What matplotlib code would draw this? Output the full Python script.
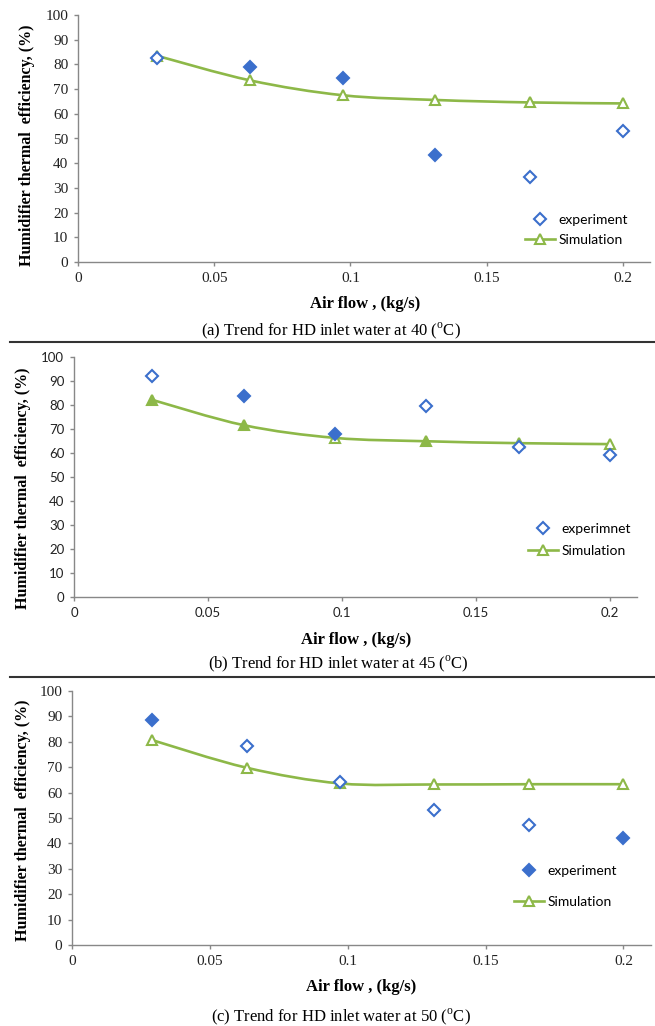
import numpy as np
import matplotlib
matplotlib.use('Agg')
from matplotlib import pyplot as plt
from matplotlib.path import Path
from matplotlib.patches import PathPatch
from matplotlib.lines import Line2D

plt.rcParams['mathtext.fontset'] = 'custom'
plt.rcParams['mathtext.rm'] = 'Liberation Serif'

# 空気流量 (kg/s)
air_flow = [0.029, 0.0633, 0.0973, 0.1312, 0.1658, 0.2]

# (a) 40 C
exp_40 = [82.4, 78.8, 74.5, 43.2, 34.6, 53.0]
exp_40_filled = [False, True, True, True, False, False]
sim_40 = [83.5, 73.5, 67.5, 65.6, 64.6, 64.2]
sim_40_filled = [False, False, False, False, False, False]

# (b) 45 C
exp_45 = [92.2, 83.8, 68.1, 79.4, 62.4, 59.1]
exp_45_filled = [False, True, True, False, False, False]
sim_45 = [82.2, 71.6, 66.3, 64.9, 64.1, 63.7]
sim_45_filled = [True, True, False, True, False, False]

# (c) 50 C
exp_50 = [88.5, 78.4, 64.0, 53.3, 47.4, 42.1]
exp_50_filled = [True, False, False, False, False, True]
sim_50 = [80.7, 69.8, 63.6, 63.2, 63.3, 63.3]
sim_50_filled = [False, False, False, False, False, False]

x_ticks = [0, 0.05, 0.1, 0.15, 0.2]
x_ticklabels = ['0', '0.05', '0.1', '0.15', '0.2']
y_ticks = list(range(0, 101, 10))

BLUE = '#3b6fcc'
GREEN = '#8db848'
GREY = '#888888'
W, H = 655, 1026


def smooth_path(xs, ys):
  # Excel風のスムーズ線 (ベジェ曲線)
  p = np.column_stack([xs, ys])
  n = len(p)
  verts = [p[0]]
  codes = [Path.MOVETO]
  for i in range(n - 1):
    p0 = p[i - 1] if i > 0 else p[i]
    p3 = p[i + 2] if i + 2 < n else p[i + 1]
    c1 = p[i] + (p[i + 1] - p0) / 6
    c2 = p[i + 1] - (p3 - p[i]) / 6
    verts += [c1, c2, p[i + 1]]
    codes += [Path.CURVE4] * 3
  return Path(verts, codes)


def markers(ax, xs, ys, filled, marker, color, ms):
  xs = np.array(xs); ys = np.array(ys); f = np.array(filled)
  ax.plot(xs[~f], ys[~f], linestyle='none', marker=marker, ms=ms,
          mfc='white', mec=color, mew=1.5, zorder=4)
  ax.plot(xs[f], ys[f], linestyle='none', marker=marker, ms=ms,
          mfc=color, mec=color, mew=1.5, zorder=4)


panels = [
  dict(box=(78, 15, 650, 262), exp=exp_40, ef=exp_40_filled, sim=sim_40, sf=sim_40_filled,
       exp_label='experiment', leg_filled=False, tickfont='Liberation Serif', ticksize=11,
       leg=(0.781, 0.13, 0.6), ylab=(27, 145), xlab=(365, 304), cap=(331, 331),
       caption='(a) Trend for HD inlet water at 40 ($^{\\rm o}$C)'),
  dict(box=(74, 357, 637, 597), exp=exp_45, ef=exp_45_filled, sim=sim_45, sf=sim_45_filled,
       exp_label='experimnet', leg_filled=False, tickfont='Lato', ticksize=9.5,
       leg=(0.806, 0.2375, 0.75), ylab=(23, 488), xlab=(356, 640), cap=(338, 664),
       caption='(b) Trend for HD inlet water at 45 ($^{\\rm o}$C)'),
  dict(box=(72, 691, 651, 945), exp=exp_50, ef=exp_50_filled, sim=sim_50, sf=sim_50_filled,
       exp_label='experiment', leg_filled=True, tickfont='Liberation Serif', ticksize=11,
       leg=(0.763, 0.23, 1.4), ylab=(23, 820), xlab=(361, 987), cap=(341, 1017),
       caption='(c) Trend for HD inlet water at 50 ($^{\\rm o}$C)'),
]

fig = plt.figure(figsize=(W / 100, H / 100), dpi=100)

for pn in panels:
  x0, y0, x1, y1 = pn['box']
  ax = fig.add_axes([x0 / W, 1 - y1 / H, (x1 - x0) / W, (y1 - y0) / H])
  ax.set_xlim(0, 0.21)
  ax.set_ylim(0, 100)
  for s in ['top', 'right']:
    ax.spines[s].set_visible(False)
  for s in ['left', 'bottom']:
    ax.spines[s].set_color(GREY)
    ax.spines[s].set_linewidth(1.0)
  ax.set_xticks(x_ticks)
  ax.set_xticklabels(x_ticklabels)
  ax.set_yticks(y_ticks)
  ax.tick_params(direction='out', length=3, width=1, color=GREY, pad=4)
  for lab in ax.get_xticklabels() + ax.get_yticklabels():
    lab.set_fontfamily(pn['tickfont'])
    lab.set_fontsize(pn['ticksize'])
    lab.set_color('#222222')

  ax.add_patch(PathPatch(smooth_path(air_flow, pn['sim']), fill=False,
                         edgecolor=GREEN, lw=1.9, zorder=3))
  markers(ax, air_flow, pn['sim'], pn['sf'], '^', GREEN, 7)
  markers(ax, air_flow, pn['exp'], pn['ef'], 'D', BLUE, 6)

  # 凡例
  h_exp = Line2D([], [], linestyle='none', marker='D', ms=6, mec=BLUE, mew=1.5,
                 mfc=BLUE if pn['leg_filled'] else 'white')
  h_sim = Line2D([], [], color=GREEN, lw=1.9, marker='^', ms=7, mec=GREEN,
                 mew=1.5, mfc='white')
  lx, ly, ls = pn['leg']
  ax.legend([h_exp, h_sim], [pn['exp_label'], 'Simulation'], loc='center left',
            bbox_to_anchor=(lx, ly), frameon=False, borderpad=0, borderaxespad=0,
            handlelength=2.2, handletextpad=0.2, labelspacing=ls,
            prop={'family': 'Lato', 'size': 10})

  fig.text(pn['ylab'][0] / W, 1 - pn['ylab'][1] / H, 'Humidifier thermal  efficiency, (%)',
           rotation=90, ha='center', va='center', family='Liberation Serif',
           weight='bold', fontsize=11.5)
  fig.text(pn['xlab'][0] / W, 1 - pn['xlab'][1] / H, 'Air flow , (kg/s)',
           ha='center', va='center', family='Liberation Serif', weight='bold', fontsize=12)
  fig.text(pn['cap'][0] / W, 1 - pn['cap'][1] / H, pn['caption'],
           ha='center', va='center', family='Liberation Serif', fontsize=12)

# 区切り線
for py in [342, 677]:
  fig.add_artist(Line2D([10 / W, 1], [1 - py / H, 1 - py / H], color='#333333', lw=1.5))

fig.savefig('out.png', dpi=100, facecolor='white')
